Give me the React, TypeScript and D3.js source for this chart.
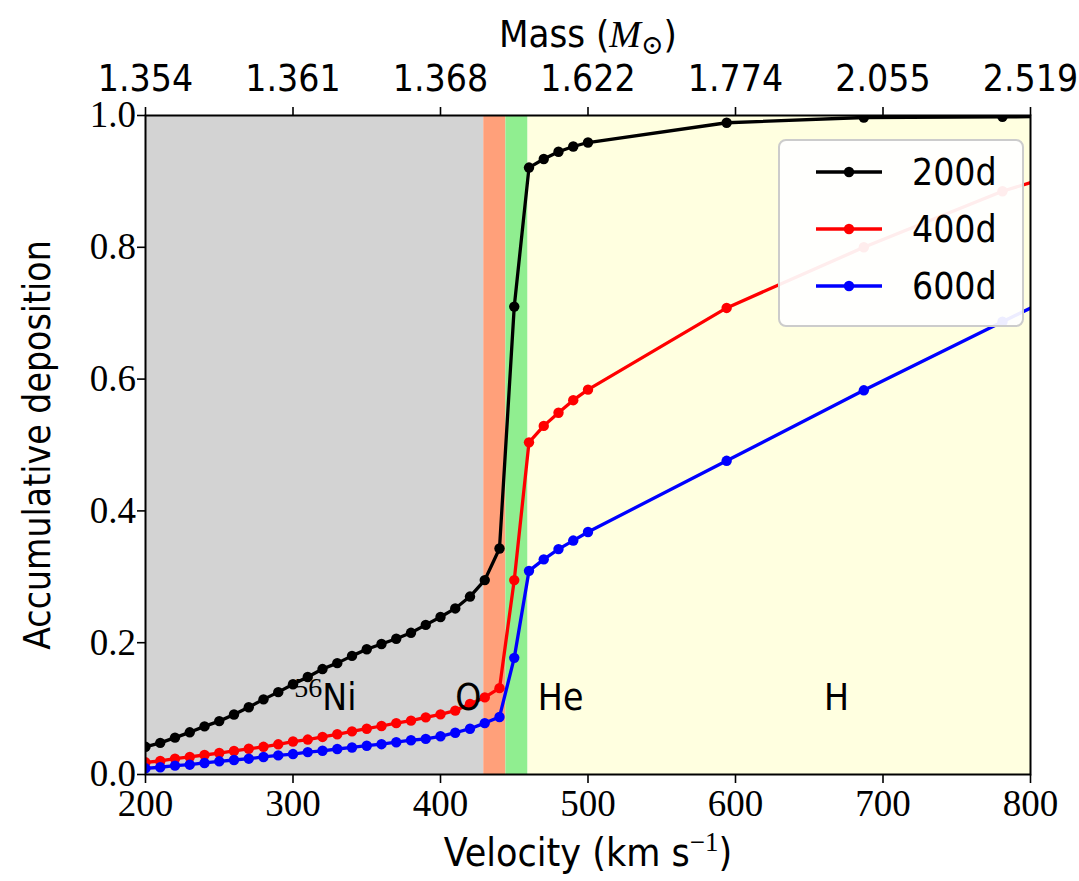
import React, { useEffect, useRef } from "react";
import * as d3 from "d3";

// velocity grid (km/s) of the shells
const velocity = [
  200, 210, 220, 230, 240, 250, 260, 270, 280, 290, 300, 310, 320, 330, 340, 350,
  360, 370, 380, 390, 400, 410, 420, 430, 440, 450, 460, 470, 480, 490, 500,
  594, 687, 781, 875,
];

const dep200 = [
  0.042, 0.048, 0.056, 0.064, 0.073, 0.081, 0.091, 0.102, 0.114, 0.125, 0.137, 0.148,
  0.16, 0.169, 0.18, 0.19, 0.198, 0.206, 0.215, 0.227, 0.239, 0.252, 0.27, 0.295,
  0.343, 0.71, 0.921, 0.934, 0.945, 0.953, 0.959, 0.989, 0.997, 0.998, 0.999,
];
const dep400 = [
  0.0185, 0.0205, 0.024, 0.0266, 0.0296, 0.0326, 0.0357, 0.039, 0.042, 0.0458, 0.05,
  0.053, 0.057, 0.061, 0.0655, 0.0695, 0.0736, 0.078, 0.0817, 0.0867, 0.0913, 0.097,
  0.107, 0.117, 0.131, 0.295, 0.504, 0.529, 0.549, 0.568, 0.584, 0.708, 0.8, 0.885,
  0.95,
];
const dep600 = [
  0.0094, 0.011, 0.0134, 0.0149, 0.0175, 0.02, 0.022, 0.024, 0.0266, 0.029, 0.031,
  0.034, 0.036, 0.0387, 0.041, 0.0437, 0.046, 0.049, 0.052, 0.054, 0.058, 0.0634,
  0.0695, 0.078, 0.0873, 0.177, 0.309, 0.3265, 0.342, 0.355, 0.368, 0.476, 0.583,
  0.687, 0.79,
];

const seriesNames = ["200d", "400d", "600d"];
const seriesColors = ["black", "red", "blue"];

// composition zones (velocity bounds)
const zoneStart = [200, 429, 444, 459];
const zoneEnd = [429, 444, 459, 800];
const zoneColors = ["#d3d3d3", "#ffa07a", "#90ee90", "#ffffe0"];
const zoneLabels = ["Ni", "O", "He", "H"];
const zoneLabelX = [322, 410, 466, 660];

const xTicks = [200, 300, 400, 500, 600, 700, 800];
const massTicks = ["1.354", "1.361", "1.368", "1.622", "1.774", "2.055", "2.519"];
const yTicks = [0, 0.2, 0.4, 0.6, 0.8, 1.0];

const W = 1079;
const H = 881;
const M = { left: 145.5, right: 1030.5, top: 115.5, bottom: 774.5 };
const SANS = "'DejaVu Sans Condensed', Roboto, 'Liberation Sans', sans-serif";
const SERIF = "'Liberation Serif', 'DejaVu Serif', serif";

export default function App() {
  const svgRef = useRef<SVGSVGElement>(null);

  useEffect(() => {
    const svg = d3.select(svgRef.current);
    svg.selectAll("*").remove();

    const x = d3.scaleLinear().domain([200, 800]).range([M.left, M.right]);
    const y = d3.scaleLinear().domain([0, 1]).range([M.bottom, M.top]);

    svg
      .append("defs")
      .append("clipPath")
      .attr("id", "plot-clip")
      .append("rect")
      .attr("x", M.left)
      .attr("y", M.top)
      .attr("width", M.right - M.left)
      .attr("height", M.bottom - M.top);

    // zone backgrounds
    svg
      .append("g")
      .selectAll("rect")
      .data(zoneStart)
      .enter()
      .append("rect")
      .attr("x", (d) => x(d))
      .attr("width", (d, i) => x(zoneEnd[i]) - x(d))
      .attr("y", M.top)
      .attr("height", M.bottom - M.top)
      .attr("fill", (d, i) => zoneColors[i]);

    // lines + markers
    const plot = svg.append("g").attr("clip-path", "url(#plot-clip)");
    const allSeries = [dep200, dep400, dep600];
    allSeries.forEach((vals, si) => {
      const pts: [number, number][] = vals.map((v, i) => [velocity[i], v]);
      const line = d3
        .line<[number, number]>()
        .x((d) => x(d[0]))
        .y((d) => y(d[1]));
      plot
        .append("path")
        .attr("d", line(pts))
        .attr("fill", "none")
        .attr("stroke", seriesColors[si])
        .attr("stroke-width", 3.3)
        .attr("stroke-linejoin", "round");
      plot
        .append("g")
        .selectAll("circle")
        .data(pts)
        .enter()
        .append("circle")
        .attr("cx", (d) => x(d[0]))
        .attr("cy", (d) => y(d[1]))
        .attr("r", 5.2)
        .attr("fill", seriesColors[si]);
    });

    // zone labels
    const lab = svg.append("g").attr("font-family", SANS).attr("font-size", 37).attr("fill", "black");
    zoneLabels.forEach((name, i) => {
      const t = lab.append("text").attr("x", x(zoneLabelX[i])).attr("y", y(0.098));
      if (name === "Ni") {
        t.attr("text-anchor", "middle");
        t.append("tspan").attr("font-family", SERIF).attr("font-size", 28).attr("dy", -13).text("56");
        t.append("tspan").attr("dy", 13).text("Ni");
      } else {
        t.text(name);
      }
    });

    // frame
    svg
      .append("rect")
      .attr("x", M.left)
      .attr("y", M.top)
      .attr("width", M.right - M.left)
      .attr("height", M.bottom - M.top)
      .attr("fill", "none")
      .attr("stroke", "black")
      .attr("stroke-width", 2);

    // bottom axis
    const bottom = svg.append("g");
    xTicks.forEach((t) => {
      bottom
        .append("line")
        .attr("x1", x(t))
        .attr("x2", x(t))
        .attr("y1", M.bottom)
        .attr("y2", M.bottom + 8.5)
        .attr("stroke", "black")
        .attr("stroke-width", 1.6);
      bottom
        .append("text")
        .attr("x", x(t))
        .attr("y", 816)
        .attr("text-anchor", "middle")
        .attr("font-family", SERIF)
        .attr("font-size", 37)
        .text(String(t));
    });

    // top axis (mass)
    const top = svg.append("g");
    xTicks.forEach((t, i) => {
      top
        .append("line")
        .attr("x1", x(t))
        .attr("x2", x(t))
        .attr("y1", M.top)
        .attr("y2", M.top - 8.5)
        .attr("stroke", "black")
        .attr("stroke-width", 1.6);
      top
        .append("text")
        .attr("x", x(t))
        .attr("y", 91)
        .attr("text-anchor", "middle")
        .attr("font-family", SANS)
        .attr("font-size", 37)
        .text(massTicks[i]);
    });

    // left axis
    const left = svg.append("g");
    yTicks.forEach((t) => {
      left
        .append("line")
        .attr("x1", M.left)
        .attr("x2", M.left - 8.5)
        .attr("y1", y(t))
        .attr("y2", y(t))
        .attr("stroke", "black")
        .attr("stroke-width", 1.6);
      left
        .append("text")
        .attr("x", 136)
        .attr("y", y(t))
        .attr("dy", "0.32em")
        .attr("text-anchor", "end")
        .attr("font-family", SERIF)
        .attr("font-size", 37)
        .text(t.toFixed(1));
    });

    // axis titles
    const xl = svg
      .append("text")
      .attr("x", (M.left + M.right) / 2)
      .attr("y", 866)
      .attr("text-anchor", "middle")
      .attr("font-family", SANS)
      .attr("font-size", 39);
    xl.append("tspan").text("Velocity (km s");
    xl.append("tspan").attr("dy", -15).attr("font-size", 27).attr("font-family", SERIF).text("\u22121");
    xl.append("tspan").attr("dy", 15).text(")");

    const tl = svg
      .append("text")
      .attr("x", (M.left + M.right) / 2)
      .attr("y", 47)
      .attr("text-anchor", "middle")
      .attr("font-family", SANS)
      .attr("font-size", 38);
    tl.append("tspan").text("Mass (");
    tl.append("tspan").attr("font-family", SERIF).attr("font-style", "italic").text("M");
    tl.append("tspan").attr("dy", 7).attr("font-size", 27).attr("font-family", SERIF).text("\u2299");
    tl.append("tspan").attr("dy", -7).text(")");

    svg
      .append("text")
      .attr("transform", `translate(50, ${(M.top + M.bottom) / 2}) rotate(-90)`)
      .attr("text-anchor", "middle")
      .attr("font-family", SANS)
      .attr("font-size", 37)
      .text("Accumulative deposition");

    // legend
    const lg = svg.append("g").attr("transform", "translate(779, 140)");
    lg.append("rect")
      .attr("width", 244)
      .attr("height", 186)
      .attr("rx", 7)
      .attr("fill", "white")
      .attr("fill-opacity", 0.93)
      .attr("stroke", "#cccccc")
      .attr("stroke-width", 2);
    seriesNames.forEach((name, i) => {
      const yy = 32 + i * 57;
      lg.append("line")
        .attr("x1", 37)
        .attr("x2", 103)
        .attr("y1", yy)
        .attr("y2", yy)
        .attr("stroke", seriesColors[i])
        .attr("stroke-width", 3.3);
      lg.append("circle").attr("cx", 70).attr("cy", yy).attr("r", 5.2).attr("fill", seriesColors[i]);
      lg.append("text")
        .attr("x", 133)
        .attr("y", yy)
        .attr("dy", "0.36em")
        .attr("font-family", SANS)
        .attr("font-size", 37)
        .text(name);
    });
  }, []);

  return (
    <svg
      ref={svgRef}
      width={W}
      height={H}
      style={{ position: "absolute", left: 0, top: 0, background: "white" }}
    />
  );
}
